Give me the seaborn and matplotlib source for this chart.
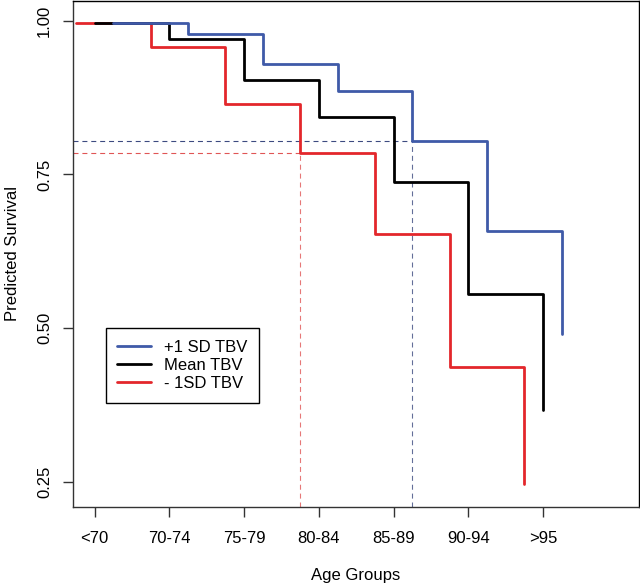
"""Predicted survival by age group for three total brain volume levels."""

import matplotlib

matplotlib.use("Agg")
import matplotlib.pyplot as plt
import pandas as pd
import seaborn as sns

age_groups = ["<70", "70-74", "75-79", "80-84", "85-89", "90-94", ">95"]
series_names = ["+1 SD TBV", "Mean TBV", "- 1SD TBV"]

surv_plus_sd = [0.996, 0.978, 0.930, 0.886, 0.805, 0.658, 0.490]
surv_mean = [0.996, 0.970, 0.903, 0.843, 0.737, 0.555, 0.367]
surv_minus_sd = [0.996, 0.957, 0.865, 0.785, 0.653, 0.437, 0.246]

# x shift of each curve so the steps do not sit on top of each other
shift = {"+1 SD TBV": 0.25, "Mean TBV": 0.0, "- 1SD TBV": -0.25}
colors = {"+1 SD TBV": "#3F5AA8", "Mean TBV": "#000000", "- 1SD TBV": "#E3272B"}

# reference lines for the +1 SD and -1 SD curves
ref_plus = (4.25, 0.805)
ref_minus = (2.75, 0.785)

rows = []
for name, values in zip(series_names, [surv_plus_sd, surv_mean, surv_minus_sd]):
    for i, v in enumerate(values):
        rows.append({"group": name, "pos": i + shift[name], "survival": v})
df = pd.DataFrame(rows)

sns.set_style("white")
plt.rcParams["font.family"] = ["Liberation Sans", "DejaVu Sans"]
plt.rcParams["text.color"] = "black"
plt.rcParams["axes.labelcolor"] = "black"
plt.rcParams["xtick.labelcolor"] = "black"
plt.rcParams["ytick.labelcolor"] = "black"

fig = plt.figure(figsize=(6.4, 5.87), dpi=100)
ax = fig.add_axes([0.114, 0.1363, 0.884, 0.862])

x_lo, x_hi = -0.29, 7.28
y_lo, y_hi = 0.209, 1.032

for x_ref, y_ref, col in [(ref_plus[0], ref_plus[1], "#3C4A80"), (ref_minus[0], ref_minus[1], "#E05555")]:
    ax.plot([x_lo, x_ref], [y_ref, y_ref], color=col, lw=0.8, linestyle=(0, (4.5, 3.5)))
    ax.plot([x_ref, x_ref], [y_lo, y_ref], color=col, lw=0.8, linestyle=(0, (4.5, 3.5)), alpha=0.8)

# draw red first, blue last, as in the original
for name in ["- 1SD TBV", "Mean TBV", "+1 SD TBV"]:
    sns.lineplot(
        data=df[df["group"] == name],
        x="pos",
        y="survival",
        color=colors[name],
        lw=2.0,
        drawstyle="steps-post",
        estimator=None,
        sort=False,
        label=name,
        ax=ax,
    )

ax.set_xlim(x_lo, x_hi)
ax.set_ylim(y_lo, y_hi)
ax.set_xticks(range(len(age_groups)))
ax.set_xticklabels(age_groups)
ax.set_yticks([0.25, 0.50, 0.75, 1.00])
ax.set_yticklabels(["0.25", "0.50", "0.75", "1.00"], rotation=90, va="center")
ax.tick_params(axis="both", bottom=True, left=True, labelsize=12, length=7, width=1,
               color="#333333", labelcolor="black", direction="out")
ax.tick_params(axis="x", pad=10)
ax.tick_params(axis="y", pad=8)

for side in ["top", "right"]:
    ax.spines[side].set_color("black")
    ax.spines[side].set_linewidth(1.0)
for side in ["left", "bottom"]:
    ax.spines[side].set_color("#333333")
    ax.spines[side].set_linewidth(1.0)

ax.set_xlabel("Age Groups", fontsize=12, labelpad=16, color="black")
ax.set_ylabel("Predicted Survival", fontsize=12, labelpad=12, color="black")

handles, labels = ax.get_legend_handles_labels()
order = [labels.index(n) for n in series_names]
leg = ax.legend(
    [handles[i] for i in order],
    [labels[i] for i in order],
    loc="upper left",
    bbox_to_anchor=(0.0578, 0.354),
    borderaxespad=0,
    fontsize=12,
    frameon=True,
    fancybox=False,
    framealpha=1,
    edgecolor="black",
    handlelength=2.0,
    handletextpad=0.8,
    labelspacing=0.2,
    borderpad=0.7,
)
leg.get_frame().set_linewidth(1.0)
for t in leg.get_texts():
    t.set_color("black")

plt.savefig("out.png", dpi=100)
plt.close()
